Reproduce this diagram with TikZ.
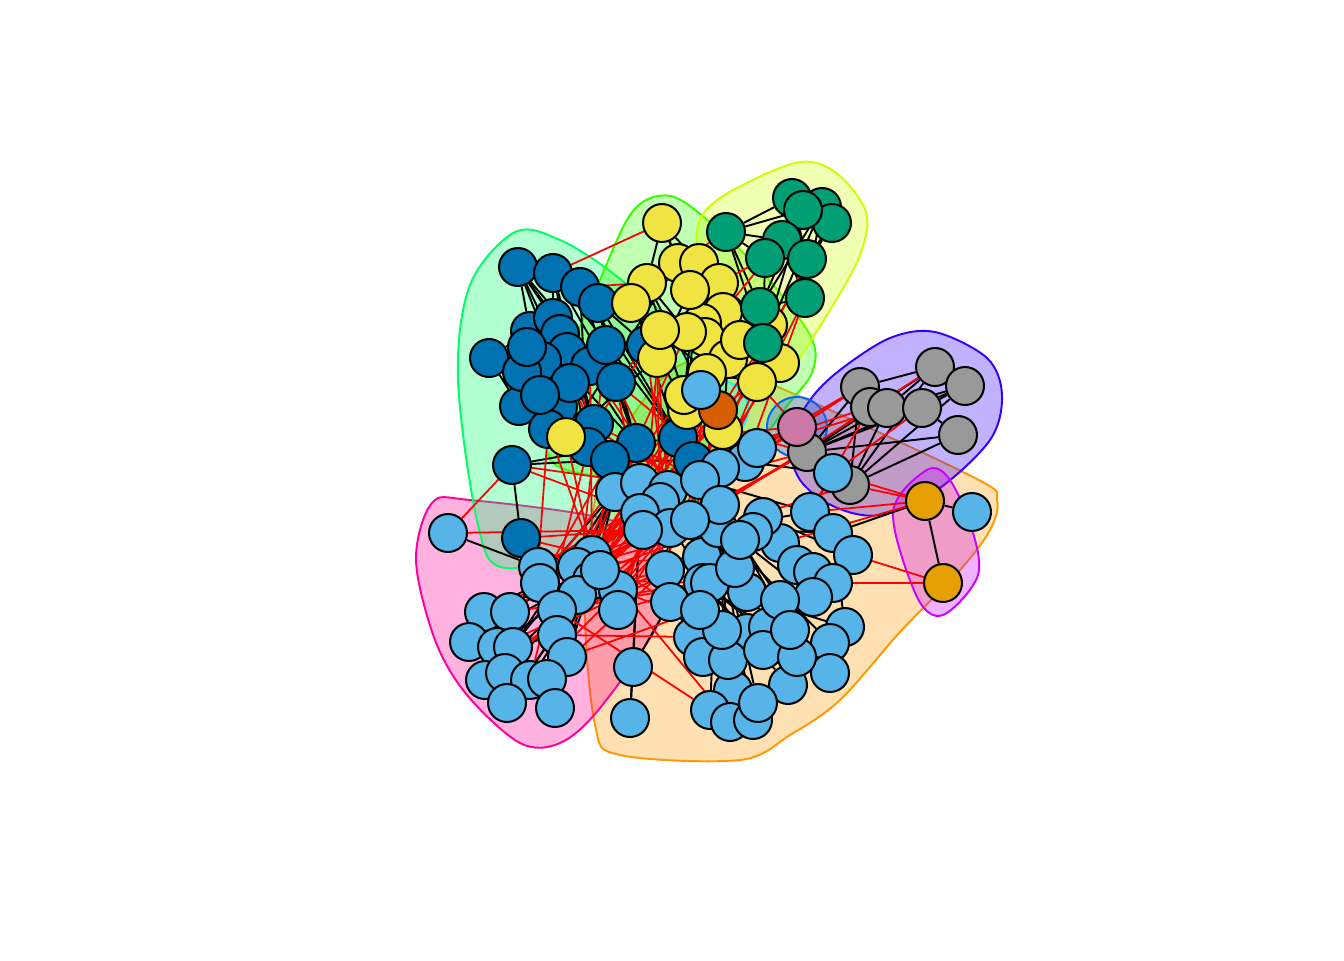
\documentclass[tikz,border=0pt]{standalone}
\pgfdeclarelayer{hulls}
\pgfdeclarelayer{edges}
\pgfsetlayers{hulls,edges,main}
\definecolor{cdb}{HTML}{0072B2}
\definecolor{cy}{HTML}{F0E442}
\definecolor{cg}{HTML}{009E73}
\definecolor{clb}{HTML}{56B4E9}
\definecolor{cgr}{HTML}{999999}
\definecolor{cpk}{HTML}{CC79A7}
\definecolor{cvm}{HTML}{D55E00}
\definecolor{cor}{HTML}{E69F00}
\definecolor{hor}{HTML}{FF9900}
\definecolor{hyg}{HTML}{CCFF00}
\definecolor{hgr}{HTML}{33FF00}
\definecolor{hmi}{HTML}{00FF66}
\definecolor{hcy}{HTML}{00FFFF}
\definecolor{hbl}{HTML}{0066FF}
\definecolor{hvi}{HTML}{3300FF}
\definecolor{hma}{HTML}{CC00FF}
\definecolor{hpi}{HTML}{FF0099}
\tikzset{
  vtx/.style={circle,draw=black,line width=1.15pt,minimum size=0.76cm,inner sep=0pt},
  vdb/.style={vtx,fill=cdb}, vy/.style={vtx,fill=cy}, vg/.style={vtx,fill=cg},
  vlb/.style={vtx,fill=clb}, vgr/.style={vtx,fill=cgr}, vpk/.style={vtx,fill=cpk},
  vvm/.style={vtx,fill=cvm}, vor/.style={vtx,fill=cor},
  blk/.style={draw=black,line width=1.1pt},
  red/.style={draw=red,line width=1.0pt},
  hull/.style={line width=1.1pt,fill opacity=0.3}
}
\begin{document}
\begin{tikzpicture}[x=0.02cm,y=-0.02cm]
\useasboundingbox (0,0) rectangle (1344,960);
% vertices
\foreach \p [count=\i] in {(518,267),(553,273),(580,287),(598,303),(489,358),(530,331),(553,318),(560,334),(567,352),(542,361),(590,366),(616,382),(606,345),(646,345),(519,406),(558,407),(548,429),(594,424),(588,447),(636,443),(512,465),(678,438),(693,461),(521,538),(570,383),(522,372),(540,395),(610,460),(527,347)}
  \node[vdb] (db\i) at \p {};
\foreach \p [count=\i] in {(662,223),(678,263),(699,263),(647,283),(719,283),(631,303),(723,312),(702,323),(705,337),(687,332),(657,358),(728,359),(768,325),(780,363),(757,382),(707,373),(687,410),(723,430),(566,437),(690,290),(660,330),(740,340),(684,395)}
  \node[vy] (y\i) at \p {};
\foreach \p [count=\i] in {(726,232),(792,198),(822,207),(832,223),(803,210),(782,240),(765,258),(807,259),(805,298),(760,307),(763,343)}
  \node[vg] (g\i) at \p {};
\foreach \p [count=\i] in {(935,367),(965,386),(860,387),(870,407),(887,408),(922,408),(958,435),(807,452),(850,485)}
  \node[vgr] (gr\i) at \p {};
\node[vpk] (pk) at (797,427) {};
\node[vvm] (vm) at (718,410) {};
\node[vor] (or1) at (925,501) {};
\node[vor] (or2) at (943,583) {};
\foreach \p [count=\i] in {(448,533),(615,492),(640,483),(668,490),(660,502),(640,513),(670,528),(643,530),(592,555),(538,567),(540,583),(577,567),(592,580),(577,595),(618,590),(618,610),(557,610),(484,612),(510,612),(469,642),(497,647),(513,647),(557,635),(567,657),(485,680),(505,673),(530,680),(547,679),(507,703),(555,708),(633,667),(630,718),(665,570),(670,602),(693,637),(702,557),(703,583),(745,462),(833,473),(972,512),(810,512),(833,533),(853,555),(780,543),(797,565),(813,572),(833,583),(813,597),(718,528),(710,583),(747,592),(735,568),(703,657),(747,633),(768,627),(788,685),(845,627),(830,643),(830,673),(733,690),(710,710),(730,722),(753,720),(758,703),(728,660),(763,650),(797,657),(722,630),(763,517),(753,532),(701,390),(757,448),(720,468),(700,480),(720,505),(690,520),(740,540),(780,600),(790,630),(700,610),(600,570)}
  \node[vlb] (lb\i) at \p {};
% hulls
\begin{pgfonlayer}{hulls}
\draw[hull,draw=hor,fill=hor] plot[smooth cycle,tension=0.55] coordinates {(700,360) (785,390) (975,478) (997,500) (990,530) (960,570) (900,632) (840,700) (790,735) (740,760) (620,755) (595,725) (585,600) (600,480) (650,392)};
\draw[hull,draw=hpi,fill=hpi] plot[smooth cycle,tension=0.55] coordinates {(432,503) (470,500) (610,520) (668,558) (660,620) (600,708) (560,743) (520,743) (467,695) (435,640) (416,560)};
\draw[hull,draw=hmi,fill=hmi] plot[smooth cycle,tension=0.55] coordinates {(515,232) (560,240) (615,275) (680,335) (725,450) (705,495) (600,545) (505,568) (478,525) (458,380) (470,285)};
\draw[hull,draw=hgr,fill=hgr] plot[smooth cycle,tension=0.55] coordinates {(658,196) (690,206) (760,270) (810,335) (813,370) (790,402) (742,455) (650,470) (590,475) (548,455) (560,380) (600,280) (630,215)};
\draw[hull,draw=hyg,fill=hyg] plot[smooth cycle,tension=0.55] coordinates {(720,198) (795,163) (835,172) (866,212) (860,255) (830,310) (790,370) (760,385) (730,370) (705,280) (697,230)};
\draw[hull,draw=hvi,fill=hvi] plot[smooth cycle,tension=0.55] coordinates {(790,440) (800,480) (835,507) (880,515) (937,490) (990,440) (1002,395) (987,358) (935,332) (890,338) (840,370) (810,400)};
\draw[hull,draw=hma,fill=hma] plot[smooth cycle,tension=0.55] coordinates {(925,471) (947,476) (970,523) (978,575) (943,615) (917,597) (893,513)};
\draw[hull,draw=hbl,fill=hbl] (797,427) circle[radius=0.6cm];
\draw[hull,draw=hcy,fill=hcy] (718,410) circle[radius=0.6cm];
\end{pgfonlayer}
% edges
\begin{pgfonlayer}{edges}
\foreach \a/\b in {db1/db2,db1/db6,db1/db11,db1/db12,db1/db18,db2/db3,db2/db7,db2/db12,db2/db19,db3/db4,db3/db14,db3/db20,db4/db13,db4/db20,db5/db6,db5/db10,db5/db15,db6/db8,db7/db9,db8/db11,db9/db13,db10/db16,db11/db12,db12/db20,db13/db14,db15/db16,db16/db17,db17/db19,db18/db19,db19/db20,db20/db22,db22/db23,db21/db24,db21/db20,db14/db22,db25/db26,db26/db27,db27/db18,db29/db9,db28/db19,db28/db23,db3/db22,db2/db22,db1/db20,db5/db26,db1/db19,db2/db18,db21/db28,db6/db20,db7/db28,db4/db23,db3/db19,
  y1/y2,y1/y4,y1/y3,y2/y3,y2/y5,y3/y5,y4/y6,y4/y10,y5/y7,y6/y11,y7/y8,y8/y9,y9/y10,y10/y21,y11/y21,y12/y16,y13/y12,y14/y15,y15/y16,y16/y17,y17/y18,y18/y12,y5/y13,y2/y16,y3/y17,y6/y17,y20/y9,y22/y12,y23/y17,y4/y23,y19/y11,y6/y16,y1/y20,y20/y11,y2/y18,y3/y23,y4/y18,y5/y17,y2/y19,
  g1/g2,g1/g5,g1/g6,g1/g7,g2/g3,g2/g5,g3/g4,g5/g6,g6/g7,g7/g8,g8/g9,g9/g10,g10/g11,g6/g9,g2/g8,g4/g8,g5/g10,g3/g9,g7/g11,g1/g10,g4/g11,g3/g10,g2/g9,g1/g11,g5/g11,g3/g11,
  gr1/gr3,gr1/gr5,gr2/gr5,gr2/gr6,gr3/gr4,gr4/gr5,gr5/gr6,gr6/gr7,gr8/gr1,gr8/gr2,gr8/gr3,gr8/gr6,gr8/gr7,gr9/gr1,gr9/gr2,gr9/gr7,gr9/gr5,gr8/gr9,gr4/gr8,gr3/gr9,gr8/gr5,
  or1/or2,or1/lb40,or1/lb42,
  lb1/lb10,lb10/lb11,lb10/lb12,lb11/lb14,lb12/lb13,lb13/lb15,lb14/lb17,lb15/lb16,lb17/lb23,lb18/lb19,lb18/lb20,lb19/lb22,lb20/lb21,lb21/lb22,lb22/lb23,lb23/lb24,lb24/lb28,lb25/lb26,lb26/lb27,lb27/lb28,lb29/lb26,lb30/lb28,lb30/lb24,lb31/lb32,lb31/lb34,lb33/lb34,lb34/lb35,lb35/lb53,lb36/lb37,lb36/lb49,lb37/lb50,lb38/lb39,
  lb2/lb9,lb2/lb12,lb2/lb13,lb2/lb14,lb2/lb17,lb2/lb19,lb2/lb22,lb2/lb23,lb2/lb28,lb81/lb18,lb81/lb20,lb81/lb21,lb81/lb25,lb81/lb26,lb81/lb27,lb81/lb29,lb9/lb30,lb13/lb24,lb9/lb18,lb9/lb20,lb12/lb25,lb13/lb29,
  lb49/lb41,lb49/lb42,lb49/lb44,lb49/lb45,lb49/lb46,lb49/lb51,lb49/lb52,lb49/lb54,lb49/lb55,lb49/lb58,lb49/lb60,lb49/lb61,lb49/lb62,lb49/lb63,lb49/lb64,lb36/lb53,lb36/lb60,lb36/lb65,lb37/lb56,lb37/lb57,lb37/lb59,lb37/lb66,lb37/lb67,lb42/lb57,lb43/lb47,lb41/lb39,lb4/lb36,lb4/lb49,lb5/lb37,lb6/lb31,lb6/lb32,lb7/lb33,lb7/lb34,lb73/lb49,lb73/lb74,lb75/lb76,lb74/lb36,lb75/lb77,lb77/lb78,lb77/lb79,lb38/lb73,lb69/lb70,lb70/lb44,lb45/lb48,lb46/lb48,lb78/lb79,lb80/lb35,lb80/lb68,lb68/lb54,lb65/lb60,lb63/lb62,lb56/lb67,lb58/lb59,lb71/lb73,lb72/lb38,lb75/lb51,lb76/lb50,lb77/lb48,lb74/lb41,lb69/lb43}
  \draw[blk] (\a) -- (\b);
\foreach \a/\b in {lb1/db21,db24/lb7,db24/lb9,db21/lb3,db21/lb6,db19/lb3,db19/lb5,db20/lb8,db20/lb12,db18/lb7,db12/lb6,db12/lb4,db14/lb7,db11/lb9,db17/lb10,db16/lb2,db15/lb5,db28/lb11,db28/lb13,db23/lb15,db22/lb16,db22/lb17,db20/lb23,db19/lb27,db13/lb14,db24/lb12,db17/lb9,db18/lb74,db16/lb75,db11/lb76,db9/lb2,db25/lb6,db27/lb3,db22/lb75,db23/lb33,db23/lb9,db28/lb7,db20/lb36,db12/lb73,
  y19/lb3,y17/lb6,y18/lb8,y15/lb12,y14/lb7,y16/lb9,y11/lb4,y12/lb13,y6/db3,db3/y4,db1/y6,db14/y11,db12/y21,db4/y2,y1/db2,y23/lb74,y18/lb75,y17/lb2,y11/lb5,y21/lb8,y16/lb76,y15/lb73,y19/lb9,y23/lb11,y10/db20,y21/db18,
  g1/y4,g10/lb5,g11/lb4,g9/lb38,g11/lb7,g10/y16,g7/y5,g6/y7,g9/lb73,g11/lb76,g10/lb3,g8/lb74,
  gr8/lb4,gr8/lb7,gr3/lb38,gr4/lb41,gr9/lb49,gr5/lb72,gr8/y18,gr6/lb39,gr3/lb74,gr1/lb75,gr4/lb3,gr8/lb76,
  pk/lb3,pk/lb7,pk/y15,pk/db22,pk/gr3,pk/lb74,pk/lb5,pk/lb73,
  vm/lb8,vm/lb12,vm/db22,vm/y14,vm/lb76,vm/lb6,
  or1/lb39,or2/lb47,or2/lb43,or1/lb44,or1/gr9,or1/lb41,
  lb10/lb36,lb12/lb49,lb13/lb37,lb14/lb33,lb15/lb36,lb17/lb50,lb9/lb34,lb21/lb33,lb19/lb37,lb23/lb35,lb24/lb80,lb16/lb50,lb11/lb76,lb18/lb7,lb22/lb36,lb9/lb76,lb12/lb75,lb13/lb4,lb14/lb74,lb15/lb73,lb81/lb49,lb17/lb61,lb2/lb60,lb9/lb62,lb13/lb68,lb20/lb5,lb25/lb7,lb26/lb6,lb27/lb76,lb28/lb33,lb2/lb3,lb2/lb4,lb2/lb7,lb9/lb3,lb9/lb5,lb12/lb6,lb13/lb8,lb15/lb4,lb16/lb7,lb81/lb3,lb81/lb8,lb10/lb4,lb11/lb5,lb14/lb6,lb17/lb8,lb23/lb7,lb1/lb8}
  \draw[red] (\a) -- (\b);
\end{pgfonlayer}
\end{tikzpicture}
\end{document}
